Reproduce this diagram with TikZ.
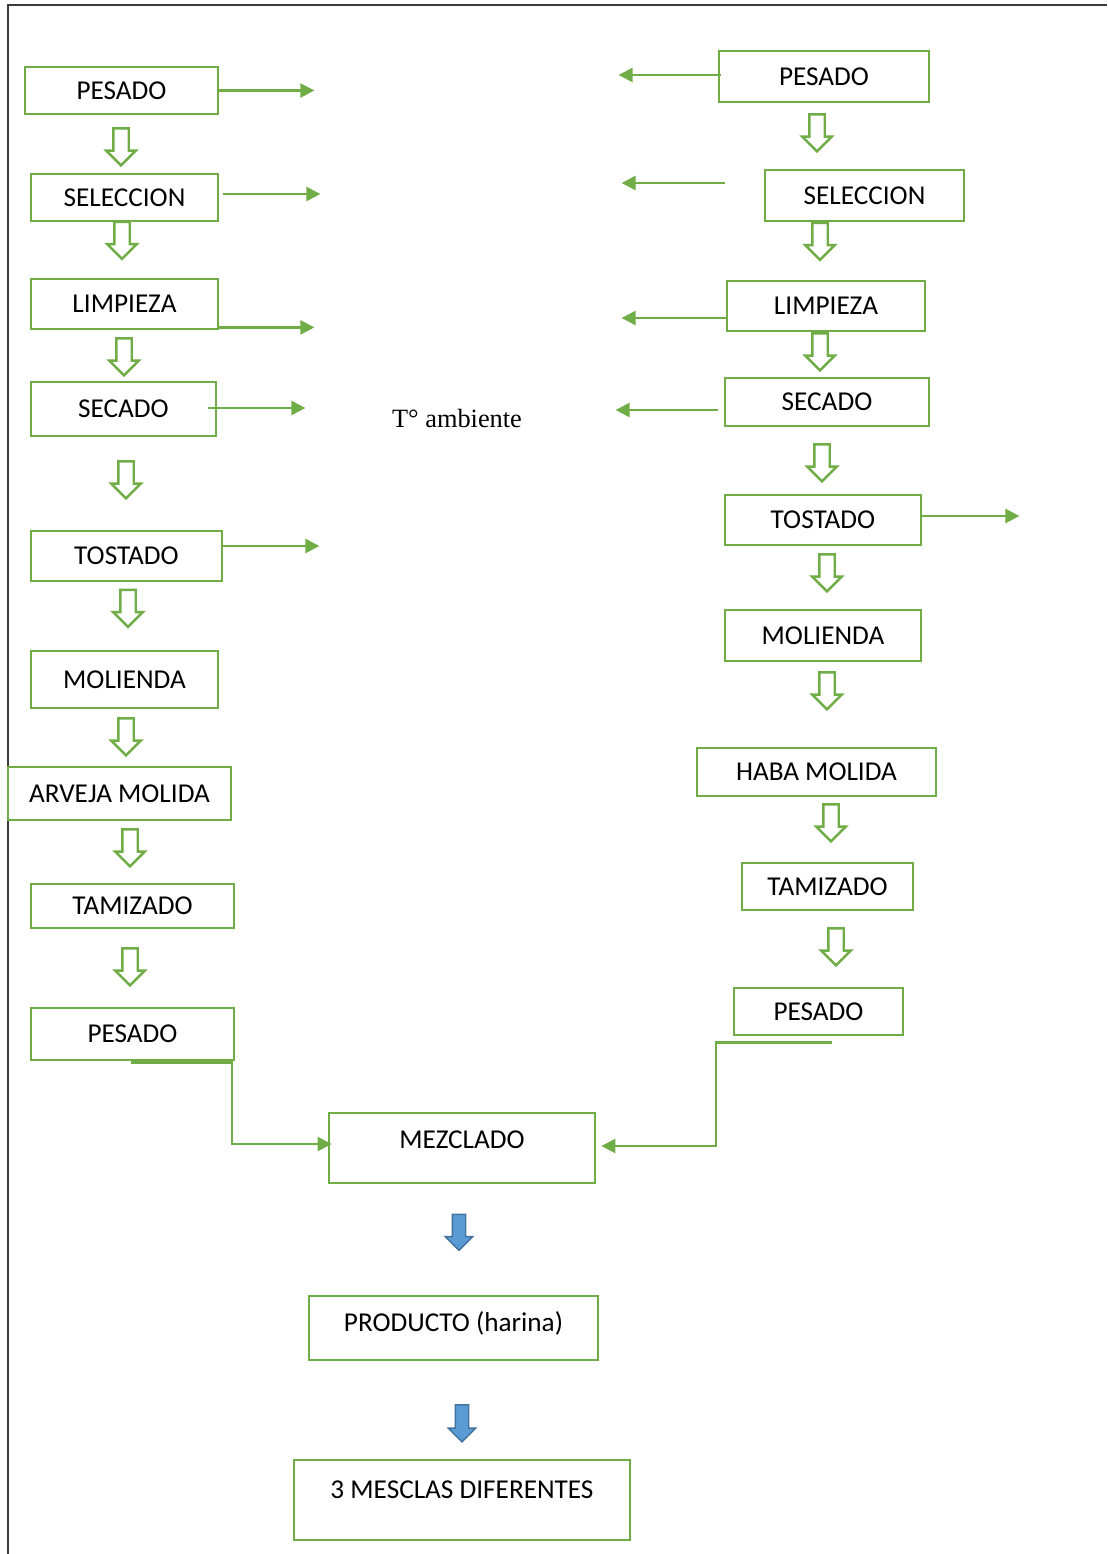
\documentclass[tikz,border=0pt]{standalone}
\usepackage{fontspec}
\setmainfont{Carlito}
\newfontfamily\serifa{Liberation Serif}
\usepackage{xcolor}
\definecolor{verde}{RGB}{112,173,71}
\definecolor{azul}{RGB}{91,155,213}
\definecolor{azulborde}{RGB}{65,113,156}
\definecolor{marcogris}{RGB}{60,60,60}
\usepackage{tikz}
\usetikzlibrary{shapes.arrows, arrows.meta, positioning, calc}

\begin{document}
\begin{tikzpicture}[
  x=0.02cm, y=-0.02cm,
  caja/.style={rectangle, draw=verde, line width=1.6pt, inner sep=0pt, text height=10pt, text depth=0pt, align=center, font=\fontsize{15.5}{19}\selectfont},
  flecha/.style={single arrow, draw=verde, line width=1.4pt, fill=white, inner xsep=0pt, inner ysep=0.13cm, single arrow head extend=0.14cm, minimum height=0.74cm, rotate=-90},
  bajada/.style={single arrow, draw=azulborde, fill=azul, line width=0.8pt, inner xsep=0pt, inner ysep=0.12cm, single arrow head extend=0.14cm, minimum height=0.72cm, rotate=-90},
  salida/.style={-{Triangle[length=8pt, width=8pt]}, line width=1.4pt, draw=verde},
  marco/.style={draw=marcogris, line width=0.9pt}
]
\useasboundingbox (0,0) rectangle (1107,1554);

% Marco
\draw[marco] (8,1554) -- (8,5) -- (1107,5);

% Nodes - arveja
\node[caja, minimum width=3.86cm, minimum height=0.94cm] (pesadoA) at (121.5,90.5) {PESADO};
\node[caja, minimum width=3.74cm, minimum height=0.94cm] (seleccionA) at (124.5,197.5) {SELECCION};
\node[caja, minimum width=3.74cm, minimum height=1.00cm] (limpiezaA) at (124.5,304) {LIMPIEZA};
\node[caja, minimum width=3.70cm, minimum height=1.08cm] (secadoA) at (123.5,409) {SECADO};
\node[caja, minimum width=3.82cm, minimum height=1.00cm] (tostadoA) at (126.5,556) {TOSTADO};
\node[caja, minimum width=3.74cm, minimum height=1.14cm] (moliendaA) at (124.5,679.5) {MOLIENDA};
\node[caja, minimum width=4.46cm, minimum height=1.06cm] (arveja) at (119.5,793.5) {ARVEJA MOLIDA};
\node[caja, minimum width=4.06cm, minimum height=0.88cm] (tamizadoA) at (132.5,906) {TAMIZADO};
\node[caja, minimum width=4.06cm, minimum height=1.04cm] (pesadoAA) at (132.5,1034) {PESADO};

% Nodes - haba
\node[caja, minimum width=4.20cm, minimum height=1.02cm] (pesadoB) at (824,76.5) {PESADO};
\node[caja, minimum width=3.98cm, minimum height=1.02cm] (seleccionB) at (864.5,195.5) {SELECCION};
\node[caja, minimum width=3.96cm, minimum height=1.00cm] (limpiezaB) at (826,306) {LIMPIEZA};
\node[caja, minimum width=4.08cm, minimum height=0.96cm] (secadoB) at (827,402) {SECADO};
\node[caja, minimum width=3.92cm, minimum height=1.00cm] (tostadoB) at (823,520) {TOSTADO};
\node[caja, minimum width=3.92cm, minimum height=1.02cm] (moliendaB) at (823,635.5) {MOLIENDA};
\node[caja, minimum width=4.78cm, minimum height=0.96cm] (haba) at (816.5,772) {HABA MOLIDA};
\node[caja, minimum width=3.42cm, minimum height=0.94cm] (tamizadoB) at (827.5,886.5) {TAMIZADO};
\node[caja, minimum width=3.38cm, minimum height=0.94cm] (pesadoBB) at (818.5,1011.5) {PESADO};

% Nodes - final
\node[caja, minimum width=5.32cm, minimum height=1.40cm, text depth=9.1pt] (mezclado) at (462,1148) {MEZCLADO};
\node[caja, minimum width=5.78cm, minimum height=1.28cm, text depth=5.7pt] (producto) at (453.5,1328) {PRODUCTO (harina)};
\node[caja, minimum width=6.72cm, minimum height=1.60cm, text depth=11.3pt] (mesclas) at (462,1500) {3 MESCLAS DIFERENTES};

\node[font=\serifa\fontsize{15}{18}\selectfont] (temp) at (457,418) {T° ambiente};

% Flechas huecas
\node[flecha] (fa1) at (121,143) {};
\node[flecha] (fa2) at (122,236.5) {};
\node[flecha] (fa3) at (124,353) {};
\node[flecha] (fa4) at (126,476) {};
\node[flecha] (fa5) at (128,604.5) {};
\node[flecha] (fa6) at (126,733) {};
\node[flecha] (fa7) at (130,844) {};
\node[flecha] (fa8) at (130,963) {};

\node[flecha] (fb1) at (817,129) {};
\node[flecha] (fb2) at (820,237.5) {};
\node[flecha] (fb3) at (820,348) {};
\node[flecha] (fb4) at (822,459) {};
\node[flecha] (fb5) at (827,569) {};
\node[flecha] (fb6) at (827,687) {};
\node[flecha] (fb7) at (831,819) {};
\node[flecha] (fb8) at (836,943) {};

\node[bajada] (fc1) at (459,1229) {};
\node[bajada, minimum height=0.74cm] (fc2) at (462,1420) {};

% Flows
\draw[salida] (pesadoA.east) -- ++(95,0);
\draw[salida] ([shift={(4,-3.5)}]seleccionA.east) -- ++(97,0);
\draw[salida] ([shift={(0,-3)}]limpiezaA.south east) -- ++(95,0);
\draw[salida] ([shift={(-9,-1)}]secadoA.east) -- ++(97,0);
\draw[salida] ([shift={(0,-10)}]tostadoA.east) -- ++(96,0);

\draw[salida] ([shift={(3,-1.5)}]pesadoB.west) -- ++(-102,0);
\draw[salida] ([shift={(-39,-12.5)}]seleccionB.west) -- ++(-103,0);
\draw[salida] ([shift={(0,12)}]limpiezaB.west) -- ++(-104,0);
\draw[salida] ([shift={(-6,8)}]secadoB.west) -- ++(-102,0);
\draw[salida] ([shift={(0,-4)}]tostadoB.east) -- ++(97,0);

\draw[salida] ([shift={(-1.5,1)}]pesadoAA.south) -- ++(101,0) |- ([shift={(4,-4)}]mezclado.west);
\draw[salida] ([shift={(13.5,6)}]pesadoBB.south) -- ++(-116,0) |- ([shift={(5,-2)}]mezclado.east);

\end{tikzpicture}
\end{document}
